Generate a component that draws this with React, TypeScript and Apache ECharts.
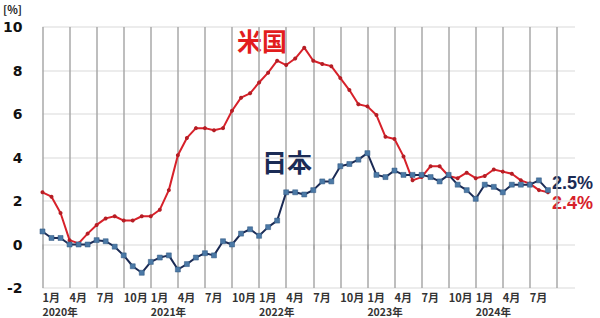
import React, { useEffect, useRef } from "react";
import * as echarts from "echarts";

const years = ["2020", "2021", "2022", "2023", "2024"];
const monthNums = [1, 2, 3, 4, 5, 6, 7, 8, 9, 10, 11, 12];
const categories: string[] = [];
years.forEach((y) => monthNums.forEach((m) => categories.push(`${y}-${m}`)));

const yTicks = { min: -2, max: 10, interval: 2 };

const usCpi = [
  2.4, 2.2, 1.45, 0.2, 0.05, 0.5, 0.9, 1.2, 1.3, 1.1, 1.1, 1.3,
  1.3, 1.6, 2.5, 4.1, 4.9, 5.35, 5.35, 5.25, 5.35, 6.15, 6.75, 6.95,
  7.45, 7.9, 8.45, 8.25, 8.55, 9.05, 8.45, 8.3, 8.2, 7.65, 7.1, 6.45,
  6.35, 5.95, 4.95, 4.85, 4.05, 2.95, 3.1, 3.6, 3.6, 3.15, 3.05, 3.3,
  3.05, 3.15, 3.45, 3.35, 3.25, 2.95, 2.8, 2.5, 2.4,
];

const jpCpi = [
  0.6, 0.3, 0.3, 0.0, 0.0, 0.0, 0.2, 0.15, -0.1, -0.5, -1.0, -1.3,
  -0.8, -0.6, -0.5, -1.15, -0.9, -0.6, -0.4, -0.5, 0.15, 0.0, 0.5, 0.7,
  0.4, 0.8, 1.1, 2.4, 2.4, 2.3, 2.5, 2.9, 2.9, 3.6, 3.7, 3.9,
  4.2, 3.2, 3.1, 3.4, 3.2, 3.2, 3.2, 3.1, 2.9, 3.2, 2.75, 2.5,
  2.1, 2.75, 2.65, 2.4, 2.75, 2.75, 2.75, 2.95, 2.5,
];

const seriesNames = { us: "米国", jp: "日本" };
const US_COLOR = "#d7212a";
const JP_COLOR = "#1b2b55";
const JP_MARK = "#4b79a6";

export default function App() {
  const ref = useRef<HTMLDivElement>(null);

  useEffect(() => {
    if (!ref.current) return;
    const chart = echarts.init(ref.current, undefined, { renderer: "svg" });
    const monthLabel = (v: string) => `${v.split("-")[1]}月`;
    const lastUs = usCpi[usCpi.length - 1];
    const lastJp = jpCpi[jpCpi.length - 1];
    const cjk = '"Noto Sans CJK JP", "Noto Sans", sans-serif';
    const endFont = '"Liberation Sans", Arial, sans-serif';
    const gridLine = (i: number) => i % 3 === 0 && i < 58;
    chart.setOption({
      animation: false,
      backgroundColor: "#ffffff",
      grid: { left: 41, right: 25, top: 27, bottom: 30, containLabel: false },
      xAxis: [
        {
          type: "category",
          data: categories,
          boundaryGap: false,
          axisLine: { show: false },
          axisTick: {
            show: true,
            length: 5,
            interval: gridLine,
            lineStyle: { color: "#a8a8a8", width: 1.5 },
          },
          splitLine: {
            show: true,
            interval: gridLine,
            lineStyle: { color: "#a8a8a8", width: 1.5 },
          },
          axisLabel: {
            interval: (i: number) => i % 3 === 0 && i < 57,
            showMinLabel: true,
            hideOverlap: false,
            formatter: monthLabel,
            fontFamily: cjk,
            fontSize: 11,
            fontWeight: "bold",
            color: "#333",
            margin: 3,
            lineHeight: 12,
            align: "left",
          },
        },
        {
          type: "category",
          data: categories,
          boundaryGap: false,
          position: "bottom",
          offset: 14,
          axisLine: { show: false },
          axisTick: { show: false },
          splitLine: { show: false },
          axisLabel: {
            interval: (i: number) => i % 12 === 0,
            showMinLabel: true,
            formatter: (v: string) => `${v.split("-")[0]}年`,
            fontFamily: cjk,
            fontSize: 10.5,
            fontWeight: "bold",
            color: "#333",
            margin: 4,
            lineHeight: 11,
            align: "left",
          },
        },
      ],
      yAxis: {
        type: "value",
        min: yTicks.min,
        max: yTicks.max,
        interval: yTicks.interval,
        axisLine: { show: false },
        axisTick: { show: false },
        splitLine: { show: true, lineStyle: { color: "#e6e6e6", width: 1.5 } },
        axisLabel: {
          fontFamily: '"DejaVu Sans", sans-serif',
          fontSize: 14,
          fontWeight: "bold",
          color: "#111",
          margin: 20,
        },
      },
      series: [
        {
          name: seriesNames.us,
          type: "line",
          data: usCpi,
          xAxisIndex: 0,
          symbol: "circle",
          symbolSize: 4,
          lineStyle: { color: US_COLOR, width: 2 },
          itemStyle: { color: "#b51d24" },
          z: 2,
        },
        {
          name: seriesNames.jp,
          type: "line",
          data: jpCpi,
          xAxisIndex: 0,
          symbol: "rect",
          symbolSize: 5,
          lineStyle: { color: JP_COLOR, width: 2 },
          itemStyle: { color: JP_MARK, borderColor: "#2f557e", borderWidth: 0.5 },
          z: 3,
        },
      ],
      graphic: [
        {
          type: "text",
          left: 3,
          top: 3,
          style: { text: "[%]", fontFamily: cjk, fontSize: 11, fontWeight: "bold", fill: "#222" },
        },
        {
          type: "text",
          left: 237,
          top: 27,
          style: { text: seriesNames.us, fontFamily: cjk, fontSize: 25, fontWeight: "bold", fill: "#e21d1d" },
        },
        {
          type: "text",
          left: 262,
          top: 148,
          style: { text: seriesNames.jp, fontFamily: cjk, fontSize: 25, fontWeight: "bold", fill: JP_COLOR },
        },
        {
          type: "text",
          left: 552,
          top: 174,
          style: { text: `${lastJp.toFixed(1)}%`, fontFamily: endFont, fontSize: 18, fontWeight: "bold", fill: JP_COLOR },
        },
        {
          type: "text",
          left: 552,
          top: 194,
          style: { text: `${lastUs.toFixed(1)}%`, fontFamily: endFont, fontSize: 18, fontWeight: "bold", fill: US_COLOR },
        },
      ],
    });
    return () => chart.dispose();
  }, []);

  return <div ref={ref} style={{ width: 600, height: 318, position: "fixed", left: 0, top: 0 }} />;
}
